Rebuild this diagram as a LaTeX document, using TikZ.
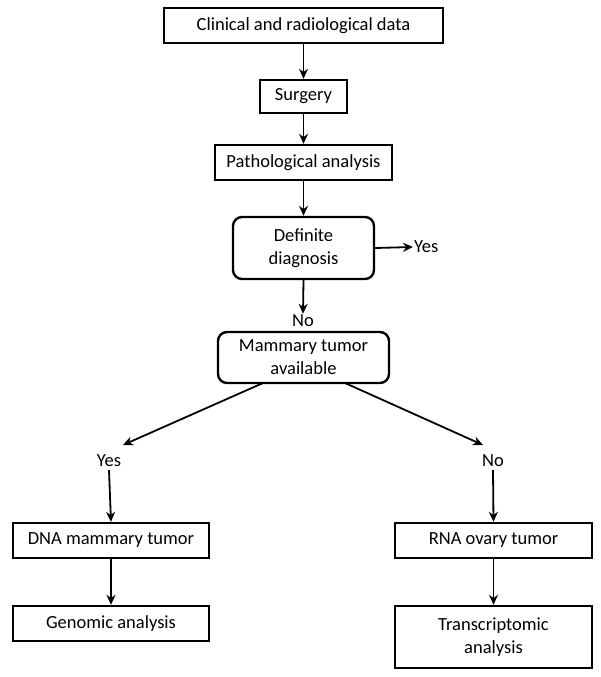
\documentclass[tikz,border=0pt]{standalone}
\usepackage{fontspec}
\setmainfont{Carlito}
\usetikzlibrary{arrows.meta,calc}
\begin{document}
\begin{tikzpicture}[x=1pt,y=-1pt,
  box/.style={draw,line width=2.4pt,inner sep=0pt,align=center,font=\fontsize{18.5}{23}\selectfont},
  rbox/.style={box,rounded corners=9pt},
  lab/.style={inner sep=1pt,font=\fontsize{18.5}{23}\selectfont},
  arr/.style={line width=1.8pt,-{Stealth[length=10pt,width=9pt]}}]
\useasboundingbox (0,0) rectangle (600,677);
\node[box,minimum width=279pt,minimum height=35pt] (clin) at (303.5,25.5) {Clinical and radiological data};
\node[box,minimum width=87pt,minimum height=33pt] (surg) at (303.5,96.5) {Surgery};
\node[box,minimum width=177pt,minimum height=35pt] (path) at (303.5,162.5) {Pathological analysis};
\node[rbox,minimum width=141pt,minimum height=62pt] (def) at (303.5,248) {Definite\\diagnosis};
\node[lab,anchor=west] (yes1) at (413,247) {Yes};
\node[lab] (no1) at (303,321) {No};
\node[rbox,minimum width=171pt,minimum height=51pt] (mam) at (303.5,357.5) {Mammary tumor\\available};
\node[lab] (yes2) at (109,461) {Yes};
\node[lab] (no2) at (493,461) {No};
\node[box,minimum width=196pt,minimum height=35pt] (dna) at (111,540.5) {DNA mammary tumor};
\node[box,minimum width=196pt,minimum height=35pt] (gen) at (111,623.5) {Genomic analysis};
\node[box,minimum width=197pt,minimum height=35pt] (rna) at (493.5,540.5) {RNA ovary tumor};
\node[box,minimum width=197pt,minimum height=62pt] (tra) at (493.5,637) {Transcriptomic\\analysis};
\coordinate (ml) at (263,383);
\coordinate (mr) at (345,383);
\coordinate (tl) at (123,445);
\coordinate (tr) at (483,445);
\draw[arr] (clin) -- (surg);
\draw[arr] (surg) -- (path);
\draw[arr] (path) -- (def);
\draw[arr] (def.east) -- (yes1.west);
\draw[arr] (def.south) -- (no1.north);
\draw[arr] (ml) -- (tl);
\draw[arr] (mr) -- (tr);
\draw[arr] (yes2.south) ++(0,2) -- (dna.north);
\draw[arr] (no2.south) ++(0,2) -- (rna.north);
\draw[arr] (dna) -- (gen);
\draw[arr] (rna) -- (tra);
\end{tikzpicture}
\end{document}
